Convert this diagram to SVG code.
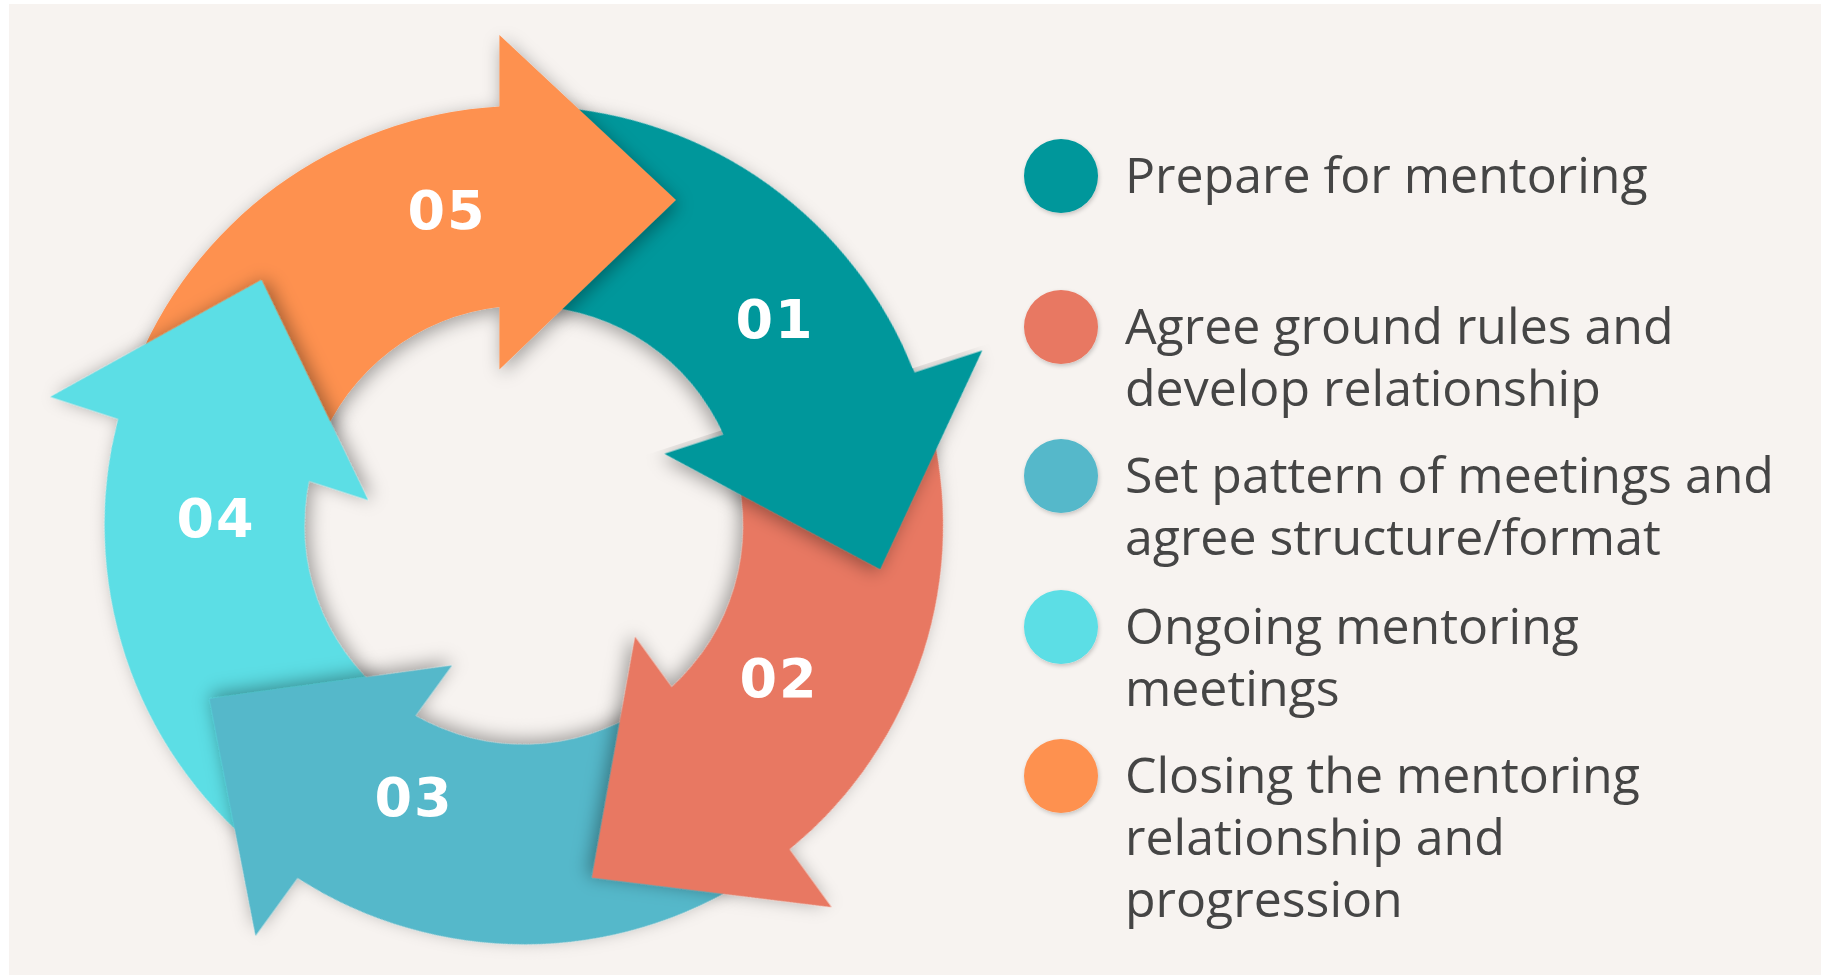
<svg xmlns="http://www.w3.org/2000/svg" xmlns:xlink="http://www.w3.org/1999/xlink" width="1821" height="977" viewBox="0 0 1821 977">
  <style>
    .num { font-family: "DejaVu Sans", "Liberation Sans", sans-serif; font-weight: bold; font-size: 54px; fill: #ffffff; text-anchor: middle; letter-spacing: 2px; }
    .lbl { font-family: "Open Sans", "Liberation Sans", sans-serif; font-size: 50px; fill: #454545; }
    .teal { fill: #04979B; }
    .salmon { fill: #E87862; }
    .blue { fill: #55B8CA; }
    .cyan { fill: #5CDEE5; }
    .orange { fill: #FE9150; }
  </style>
  <defs>
    <filter id="sh" x="-40%" y="-40%" width="180%" height="180%">
      <feDropShadow dx="2" dy="4" stdDeviation="8" flood-color="#000000" flood-opacity="0.35"/>
    </filter>
    <filter id="dotsh" x="-30%" y="-30%" width="160%" height="160%">
      <feDropShadow dx="1" dy="2" stdDeviation="2" flood-color="#000000" flood-opacity="0.2"/>
    </filter>
    <!-- one ring segment, drawn at the top pointing right; centre of the ring at the origin -->
    <path id="arrow" d="M -337 -129.4 A 361 361 0 0 1 -21 -360.4 L -21 -422 L 131 -280 L -21 -134 L -21 -187.8 A 189 189 0 0 0 -176.4 -67.7 Z"/>
    <path id="shaft" d="M -337 -129.4 A 361 361 0 0 1 -21 -360.4 L -21 -187.8 A 189 189 0 0 0 -176.4 -67.7 Z"/>
    <!-- head plus a thin strip of shaft so the two pieces join without a seam -->
    <path id="head" d="M -21 -422 L 131 -280 L -21 -134 L -21 -187.8 L -28 -187.2 L -28 -360 L -21 -360.4 Z"/>
    <clipPath id="ahead" clipPathUnits="userSpaceOnUse">
      <rect x="-25" y="-520" width="304" height="460"/>
    </clipPath>
  </defs>

  <rect x="0" y="0" width="1821" height="977" fill="#ffffff"/>
  <rect x="9" y="4" width="1812" height="971" fill="#F7F3F0"/>

  <!-- cycle: each step overlaps the tail of the next one -->
  <g id="step-01">
    <use xlink:href="#shaft" class="teal" filter="url(#sh)" transform="translate(523.8 525.1) scale(1.1614) rotate(72)"/>
    <text class="num" x="775" y="338">01</text>
  </g>
  <g id="step-05">
    <use xlink:href="#arrow" class="orange" filter="url(#sh)" transform="translate(523.8 525.1) scale(1.1614)"/>
    <text class="num" x="447" y="229">05</text>
  </g>
  <g id="step-04">
    <use xlink:href="#arrow" class="cyan" filter="url(#sh)" transform="translate(523.8 525.1) scale(1.1614) rotate(288)"/>
    <text class="num" x="216" y="537">04</text>
  </g>
  <g id="step-03">
    <use xlink:href="#arrow" class="blue" filter="url(#sh)" transform="translate(523.8 525.1) scale(1.1614) rotate(216)"/>
    <text class="num" x="414" y="816">03</text>
  </g>
  <g id="step-02">
    <use xlink:href="#arrow" class="salmon" filter="url(#sh)" transform="translate(523.8 525.1) scale(1.1614) rotate(144)"/>
    <text class="num" x="779" y="697">02</text>
  </g>
  <!-- head of step 01 sits above the tail of step 02 -->
  <g id="step-01-head" transform="translate(523.8 525.1) scale(1.1614) rotate(72)">
    <g clip-path="url(#ahead)">
      <use xlink:href="#head" class="teal" filter="url(#sh)"/>
    </g>
  </g>

  <!-- legend -->
  <g id="legend-01">
    <circle cx="1061" cy="176" r="37" class="teal" filter="url(#dotsh)"/>
    <text class="lbl" x="1125" y="193">Prepare for mentoring</text>
  </g>
  <g id="legend-02">
    <circle cx="1061" cy="327" r="37" class="salmon" filter="url(#dotsh)"/>
    <text class="lbl" x="1125" y="344">Agree ground rules and</text>
    <text class="lbl" x="1125" y="406">develop relationship</text>
  </g>
  <g id="legend-03">
    <circle cx="1061" cy="476" r="37" class="blue" filter="url(#dotsh)"/>
    <text class="lbl" x="1125" y="493">Set pattern of meetings and</text>
    <text class="lbl" x="1125" y="555">agree structure/format</text>
  </g>
  <g id="legend-04">
    <circle cx="1061" cy="627" r="37" class="cyan" filter="url(#dotsh)"/>
    <text class="lbl" x="1125" y="644">Ongoing mentoring</text>
    <text class="lbl" x="1125" y="706">meetings</text>
  </g>
  <g id="legend-05">
    <circle cx="1061" cy="776" r="37" class="orange" filter="url(#dotsh)"/>
    <text class="lbl" x="1125" y="793">Closing the mentoring</text>
    <text class="lbl" x="1125" y="855">relationship and</text>
    <text class="lbl" x="1125" y="917">progression</text>
  </g>
</svg>
